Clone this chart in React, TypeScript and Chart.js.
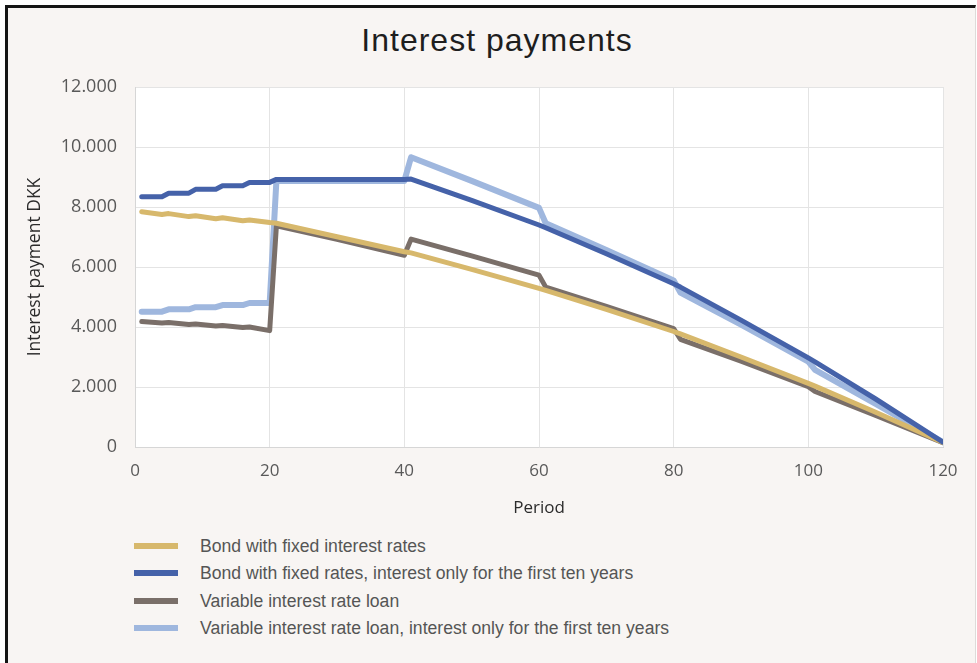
import React, { useEffect, useRef } from "react";
import { Chart, registerables } from "chart.js";

Chart.register(...registerables);

// Payment periods (quarters) at which each curve is sampled
const periods = [1, 4, 5, 8, 9, 12, 13, 16, 17, 20, 21, 30, 40, 41, 50, 60, 61, 70, 80, 81, 90, 100, 101, 110, 120];

// Interest payment (DKK) per period
const fixedBond = [7840, 7750, 7780, 7680, 7710, 7610, 7640, 7540, 7570, 7480, 7460, 7010, 6510, 6470, 5920, 5290, 5220, 4590, 3850, 3770, 3000, 2120, 2030, 1160, 150];
const fixedBondInterestOnly = [8340, 8340, 8460, 8460, 8590, 8590, 8710, 8710, 8820, 8820, 8920, 8920, 8920, 8930, 8220, 7400, 7310, 6440, 5440, 5330, 4230, 2970, 2840, 1600, 160];
const variableLoan = [4180, 4130, 4150, 4080, 4100, 4030, 4050, 3980, 4000, 3880, 7370, 6920, 6390, 6930, 6370, 5730, 5330, 4690, 3950, 3590, 2860, 2010, 1850, 1050, 140];
const variableLoanInterestOnly = [4510, 4510, 4590, 4590, 4660, 4660, 4730, 4730, 4800, 4800, 8870, 8870, 8870, 9660, 8870, 7970, 7460, 6570, 5550, 5150, 4080, 2850, 2570, 1440, 160];

const seriesNames = [
  "Bond with fixed interest rates",
  "Bond with fixed rates, interest only for the first ten years",
  "Variable interest rate loan",
  "Variable interest rate loan, interest only for the first ten years",
];
const seriesColors = ["#d7b86c", "#4562a9", "#7a6f69", "#9fb7de"];
const seriesValues = [fixedBond, fixedBondInterestOnly, variableLoan, variableLoanInterestOnly];
// Stacking order of the lines (lower = drawn on top)
const seriesOrder = [1, 0, 2, 3];
const seriesWidths = [5, 5, 5, 6];

const yTickLabels = ["0", "2.000", "4.000", "6.000", "8.000", "10.000", "12.000"];

const plotBackground = {
  id: "plotBackground",
  beforeDraw(chart: any) {
    const { ctx, chartArea } = chart;
    ctx.save();
    ctx.fillStyle = "#ffffff";
    ctx.fillRect(chartArea.left, chartArea.top, chartArea.right - chartArea.left, chartArea.bottom - chartArea.top);
    ctx.restore();
  },
};

export default function App() {
  const canvasRef = useRef<HTMLCanvasElement | null>(null);

  useEffect(() => {
    if (!canvasRef.current) return;
    const datasets = seriesNames.map((name, i) => ({
      label: name,
      data: periods.map((p, j) => ({ x: p, y: seriesValues[i][j] })),
      borderColor: seriesColors[i],
      backgroundColor: seriesColors[i],
      borderWidth: seriesWidths[i],
      pointRadius: 0,
      tension: 0,
      borderJoinStyle: "round" as const,
      borderCapStyle: "round" as const,
      order: seriesOrder[i],
    }));

    const chart = new Chart(canvasRef.current, {
      type: "line",
      data: { datasets },
      plugins: [plotBackground],
      options: {
        responsive: false,
        animation: false,
        devicePixelRatio: 1,
        events: [],
        layout: { padding: { left: 21, right: 34, top: 87, bottom: 0 } },
        plugins: {
          legend: { display: false },
          title: { display: false },
          tooltip: { enabled: false },
        },
        scales: {
          x: {
            type: "linear",
            min: 0,
            max: 120,
            ticks: {
              stepSize: 20,
              color: "#595959",
              padding: 14,
              font: { family: "'Open Sans', sans-serif", size: 17 },
            },
            grid: { color: "#e4e4e4", drawTicks: false },
            border: { color: "#d6d6d6" },
            title: {
              display: true,
              text: "Period",
              color: "#2b2b2b",
              font: { family: "'Open Sans', sans-serif", size: 17 },
              padding: { top: 4, bottom: 12 },
            },
            afterFit(scale: any) {
              scale.height = 83;
            },
          },
          y: {
            min: 0,
            max: 12000,
            ticks: {
              stepSize: 2000,
              color: "#595959",
              padding: 18,
              font: { family: "'Open Sans', sans-serif", size: 18 },
              callback: (v: any) => yTickLabels[Math.round(Number(v) / 2000)],
            },
            grid: { color: "#e4e4e4", drawTicks: false },
            border: { color: "#d6d6d6" },
            title: {
              display: true,
              text: "Interest payment DKK",
              color: "#2b2b2b",
              font: { family: "'Open Sans', sans-serif", size: 17.5 },
              padding: { top: 4, bottom: 4 },
            },
            afterFit(scale: any) {
              scale.width = 114;
            },
          },
        },
      },
    });
    return () => chart.destroy();
  }, []);

  return (
    <div style={{ position: "absolute", left: 0, top: 0, width: 977, height: 663, background: "#ffffff", overflow: "hidden" }}>
      <div
        style={{
          position: "absolute",
          left: 5,
          top: 5,
          width: 967,
          height: 670,
          background: "#f8f5f3",
          borderTop: "3px solid #141414",
          borderLeft: "3px solid #141414",
          borderRight: "1px solid #dedbd9",
        }}
      />
      <div
        style={{
          position: "absolute",
          left: 0,
          top: 20,
          width: 994,
          textAlign: "center",
          fontFamily: "'Liberation Sans', Arial, sans-serif",
          fontSize: 32,
          lineHeight: "40px",
          letterSpacing: "1px",
          color: "#1e1e1e",
        }}
      >
        Interest payments
      </div>
      <canvas ref={canvasRef} width={977} height={530} style={{ position: "absolute", left: 0, top: 0 }} />
      {seriesNames.map((name, i) => (
        <div
          key={name}
          style={{
            position: "absolute",
            left: 134,
            top: 536 + i * 27.4,
            height: 20,
            display: "flex",
            alignItems: "center",
            whiteSpace: "nowrap",
          }}
        >
          <div style={{ width: 44, height: 6, background: seriesColors[i] }} />
          <div
            style={{
              marginLeft: 22,
              fontFamily: "'Liberation Sans', Arial, sans-serif",
              fontSize: 17.6,
              lineHeight: "20px",
              color: "#555555",
            }}
          >
            {name}
          </div>
        </div>
      ))}
    </div>
  );
}
